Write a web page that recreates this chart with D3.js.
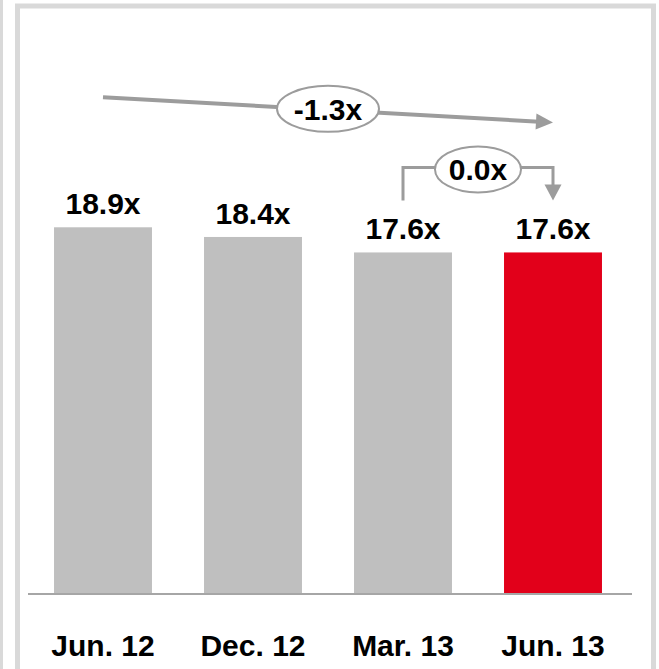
<!DOCTYPE html>
<html>
<head>
<meta charset="utf-8">
<script src="https://cdn.jsdelivr.net/npm/d3@7"></script>
<style>
  html, body { margin: 0; padding: 0; background: #fff; }
  svg { display: block; font-family: "Liberation Sans", Arial, sans-serif; }
</style>
</head>
<body>
<svg id="chart"></svg>
<script>
const width = 659, height = 669;

// data
const periods = ["Jun. 12", "Dec. 12", "Mar. 13", "Jun. 13"];
const multiples = [18.9, 18.4, 17.6, 17.6];
const barColors = ["#bfbfbf", "#bfbfbf", "#bfbfbf", "#e2001a"];
const changeLabels = ["-1.3x", "0.0x"];

const svg = d3.select("#chart").attr("width", width).attr("height", height);

// frame
svg.append("rect").attr("x", 0).attr("y", 0).attr("width", 3).attr("height", height).attr("fill", "#d9d9d9");
svg.append("rect")
    .attr("x", 17.5).attr("y", 6).attr("width", 636).attr("height", 700)
    .attr("fill", "none").attr("stroke", "#d9d9d9").attr("stroke-width", 5);

const x = d3.scaleBand()
    .domain(periods)
    .range([28, 628])
    .paddingInner(0.347)
    .paddingOuter(0.1735);

const y = d3.scaleLinear()
    .domain([0, 20])
    .range([593, 206]);

const cx = d => x(d) + x.bandwidth() / 2;

// bars
svg.selectAll(".bar")
    .data(periods)
    .join("rect")
    .attr("class", "bar")
    .attr("x", d => x(d))
    .attr("y", (d, i) => y(multiples[i]))
    .attr("width", x.bandwidth())
    .attr("height", (d, i) => y(0) - y(multiples[i]))
    .attr("fill", (d, i) => barColors[i]);

// baseline
svg.append("line")
    .attr("x1", 28).attr("x2", 632)
    .attr("y1", y(0) + 1).attr("y2", y(0) + 1)
    .attr("stroke", "#a6a6a6").attr("stroke-width", 2);

// value labels
svg.selectAll(".val")
    .data(periods)
    .join("text")
    .attr("class", "val")
    .attr("x", d => cx(d))
    .attr("y", (d, i) => y(multiples[i]) - 13)
    .attr("text-anchor", "middle")
    .attr("font-size", 30).attr("font-weight", "bold")
    .text((d, i) => multiples[i].toFixed(1) + "x");

// category labels
svg.selectAll(".cat")
    .data(periods)
    .join("text")
    .attr("class", "cat")
    .attr("x", d => cx(d))
    .attr("y", 656)
    .attr("text-anchor", "middle")
    .attr("font-size", 30).attr("font-weight", "bold")
    .text(d => d);

const arrowGray = "#9c9c9c";

function arrowHead(tipX, tipY, angle, len, half) {
    const bx = tipX - len * Math.cos(angle), by = tipY - len * Math.sin(angle);
    const px = -Math.sin(angle) * half, py = Math.cos(angle) * half;
    svg.append("path")
        .attr("d", `M${tipX},${tipY}L${bx + px},${by + py}L${bx - px},${by - py}Z`)
        .attr("fill", arrowGray);
}

function bubble(mx, my, rx, ry, label) {
    svg.append("ellipse")
        .attr("cx", mx).attr("cy", my).attr("rx", rx).attr("ry", ry)
        .attr("fill", "#fff").attr("stroke", arrowGray).attr("stroke-width", 2);
    svg.append("text")
        .attr("x", mx).attr("y", my).attr("dy", "0.36em")
        .attr("text-anchor", "middle")
        .attr("font-size", 30).attr("font-weight", "bold")
        .text(label);
}

// overall change arrow (first -> last)
const a1 = { x: cx(periods[0]), y: y(multiples[0]) - 130 };
const a2 = { x: cx(periods[3]), y: y(multiples[3]) - 130 };
const ang = Math.atan2(a2.y - a1.y, a2.x - a1.x);
svg.append("line")
    .attr("x1", a1.x).attr("y1", a1.y)
    .attr("x2", a2.x - 14 * Math.cos(ang)).attr("y2", a2.y - 14 * Math.sin(ang))
    .attr("stroke", arrowGray).attr("stroke-width", 4);
arrowHead(a2.x, a2.y, ang, 17, 8);
bubble((a1.x + a2.x) / 2, (a1.y + a2.y) / 2 - 1, 51, 23, changeLabels[0]);

// quarter change connector (Mar -> Jun)
const b1 = cx(periods[2]), b2 = cx(periods[3]);
const connTop = y(multiples[3]) - 85, connBot = y(multiples[3]) - 52;
svg.append("path")
    .attr("d", `M${b1},${connBot}V${connTop}H${b2}V${connBot - 14}`)
    .attr("fill", "none").attr("stroke", arrowGray).attr("stroke-width", 3);
arrowHead(b2, connBot, Math.PI / 2, 16, 8.5);
bubble((b1 + b2) / 2, connTop + 2, 43, 23, changeLabels[1]);
</script>
</body>
</html>
